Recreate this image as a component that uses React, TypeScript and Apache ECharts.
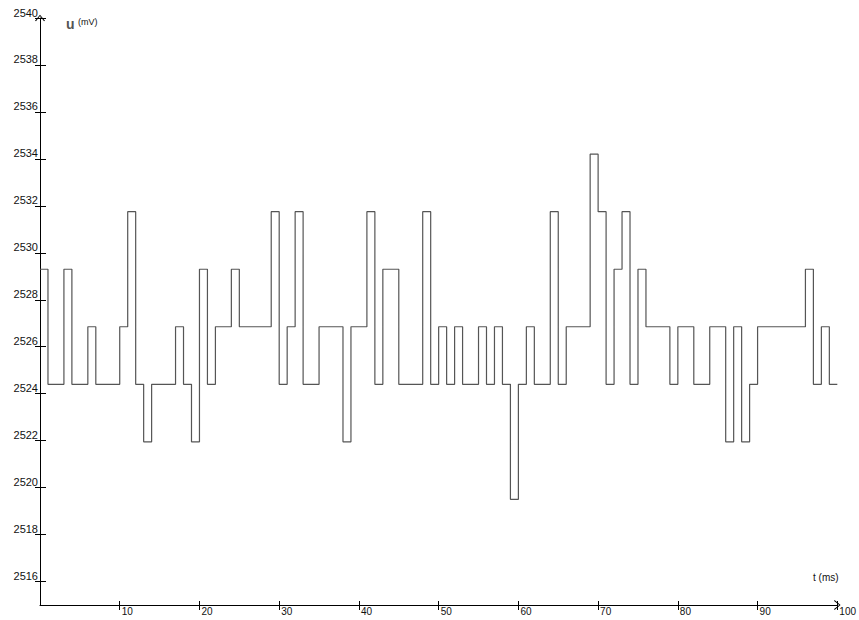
import React, { useEffect, useRef } from "react";
import * as echarts from "echarts";

// Quantised ADC levels (mV)
const A = 2519.5;
const B = 2521.95;
const L = 2524.4;
const M = 2526.85;
const H = 2529.3;
const P = 2531.75;
const Q = 2534.2;

// One sample per millisecond, t = 0 .. 99 ms
const voltageMv: number[] = [
  H, L, L, H, L, L, M, L, L, L,
  M, P, L, B, L, L, L, M, L, B,
  H, L, M, M, H, M, M, M, M, P,
  L, M, P, L, L, M, M, M, B, M,
  M, P, L, H, H, L, L, L, P, L,
  M, L, M, L, L, M, L, M, L, A,
  L, M, L, L, P, L, M, M, M, Q,
  P, L, H, P, L, H, M, M, M, L,
  M, M, L, L, M, M, B, M, B, L,
  M, M, M, M, M, M, H, L, M, L,
];
const samplePeriodMs = 1;
const endTimeMs = 100;

const yTicks: number[] = [2516, 2518, 2520, 2522, 2524, 2526, 2528, 2530, 2532, 2534, 2536, 2538, 2540];
const xTicks: number[] = [10, 20, 30, 40, 50, 60, 70, 80, 90, 100];

const FONT = "'Liberation Sans', Arial, sans-serif";
const ARROW = "path://M0,6 L5,0 L10,6 L9,6.5 L5,1.3 L1,6.5 Z";

export default function App() {
  const ref = useRef<HTMLDivElement>(null);
  useEffect(() => {
    document.body.style.margin = "0";
    const chart = echarts.init(ref.current!, undefined, { renderer: "svg" });
    const data: [number, number][] = voltageMv.map((v, i) => [i * samplePeriodMs, v]);
    data.push([endTimeMs, voltageMv[voltageMv.length - 1]]);

    const common = { min: 0, max: 100 };
    chart.setOption({
      animation: false,
      backgroundColor: "#fff",
      grid: { left: 40, right: 21, top: 18, bottom: 15, containLabel: false },
      xAxis: [
        {
          type: "value",
          ...common,
          position: "bottom",
          axisLine: {
            show: true,
            onZero: false,
            lineStyle: { color: "#000", width: 1 },
            symbol: ["none", ARROW],
            symbolSize: [10, 7],
          },
          axisTick: { show: true, inside: false, length: 5, customValues: xTicks, lineStyle: { color: "#000" } },
          axisLabel: {
            show: true,
            customValues: xTicks,
            formatter: (v: number) => String(v),
            align: "left",
            verticalAlign: "top",
            margin: 1,
            padding: [0, 0, 0, 2],
            fontSize: 10,
            fontFamily: FONT,
            color: "#111",
          },
          splitLine: { show: false },
        },
        {
          type: "value",
          ...common,
          position: "bottom",
          axisLine: { show: false, onZero: false },
          axisTick: { show: true, inside: true, length: 4, customValues: xTicks, lineStyle: { color: "#000" } },
          axisLabel: { show: false },
          splitLine: { show: false },
        },
      ],
      yAxis: [
        {
          type: "value",
          min: 2515,
          max: 2540,
          position: "left",
          axisLine: {
            show: true,
            onZero: false,
            lineStyle: { color: "#000", width: 1 },
            symbol: ["none", ARROW],
            symbolSize: [10, 7],
          },
          axisTick: { show: true, inside: false, length: 5, customValues: yTicks, lineStyle: { color: "#000" } },
          axisLabel: {
            show: true,
            customValues: yTicks,
            formatter: (v: number) => String(v),
            align: "right",
            verticalAlign: "bottom",
            margin: 2,
            fontSize: 11,
            fontFamily: FONT,
            color: "#111",
          },
          splitLine: { show: false },
        },
        {
          type: "value",
          min: 2515,
          max: 2540,
          position: "left",
          axisLine: { show: false, onZero: false },
          axisTick: { show: true, inside: true, length: 6, customValues: yTicks, lineStyle: { color: "#000" } },
          axisLabel: { show: false },
          splitLine: { show: false },
        },
      ],
      series: [
        {
          type: "line",
          step: "end",
          data,
          xAxisIndex: 0,
          yAxisIndex: 0,
          showSymbol: false,
          symbol: "none",
          lineStyle: { color: "#555", width: 1.2 },
          silent: true,
        },
      ],
      graphic: [
        {
          type: "text",
          left: 66,
          top: 17,
          style: {
            text: "u",
            fontSize: 14,
            fontWeight: "bold",
            fontFamily: FONT,
            fill: "#555",
          },
        },
        {
          type: "text",
          left: 78,
          top: 17,
          style: {
            text: "(mV)",
            fontSize: 9,
            fontFamily: FONT,
            fill: "#111",
          },
        },
        {
          type: "text",
          left: 813,
          top: 572,
          style: {
            text: "t (ms)",
            fontSize: 10,
            fontFamily: FONT,
            fill: "#111",
          },
        },
      ],
    });
    return () => chart.dispose();
  }, []);
  return <div ref={ref} style={{ width: 859, height: 620 }} />;
}
